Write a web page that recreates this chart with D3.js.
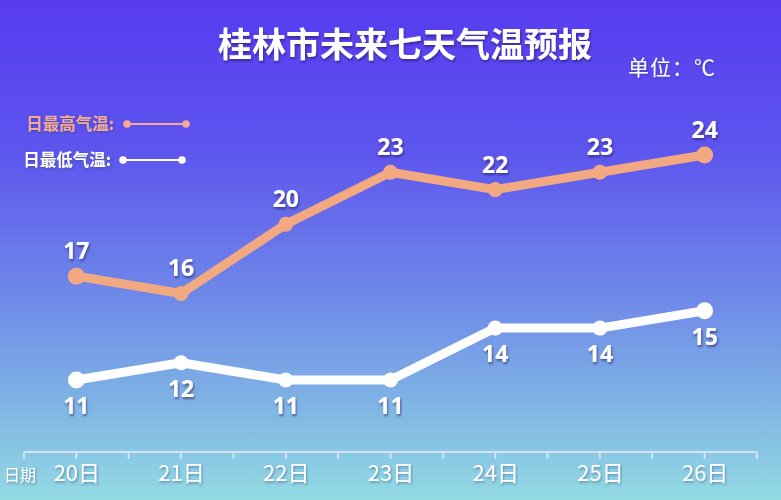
<!DOCTYPE html>
<html><head><meta charset="utf-8">
<script src="https://cdn.jsdelivr.net/npm/d3@7"></script>
<style>
html,body{margin:0;padding:0;}
svg{display:block;}
</style></head>
<body>
<svg id="chart" width="781" height="500"></svg>
<script>
const title = "桂林市未来七天气温预报";
const unitLabel = "单位：℃";
const dates = ["20日","21日","22日","23日","24日","25日","26日"];
const highTemps = [17,16,20,23,22,23,24];
const lowTemps = [11,12,11,11,14,14,15];
const seriesNames = ["日最高气温:","日最低气温:"];
const axisName = "日期";

const W = 781, H = 500;
const svg = d3.select("#chart");
const defs = svg.append("defs");
const grad = defs.append("linearGradient").attr("id","bg").attr("x1",0).attr("y1",0).attr("x2",0).attr("y2",1);
[[0,"#573bf0"],[0.3,"#5d55ee"],[0.6,"#6f8ae8"],[0.82,"#80b6e4"],[1,"#93dbe3"]].forEach(s=>
  grad.append("stop").attr("offset",s[0]).attr("stop-color",s[1]));
const sh = defs.append("filter").attr("id","sh").attr("x","-20%").attr("y","-20%").attr("width","140%").attr("height","160%");
sh.append("feDropShadow").attr("dx",1).attr("dy",2).attr("stdDeviation",1).attr("flood-color","#1a1450").attr("flood-opacity",0.55);
const sh2 = defs.append("filter").attr("id","sh2").attr("x","-20%").attr("y","-20%").attr("width","140%").attr("height","160%");
sh2.append("feDropShadow").attr("dx",1).attr("dy",1.5).attr("stdDeviation",0.8).attr("flood-color","#30407a").attr("flood-opacity",0.5);

svg.append("rect").attr("width",W).attr("height",H).attr("fill","url(#bg)");

const x = d3.scalePoint().domain(dates).range([24,757]).padding(0.5);
const y = d3.scaleLinear().domain([11,24]).range([380,155]);
const step = x.step();

const highColor = "#f2a982";
const lowColor = "#ffffff";
const cjk = "'Noto Sans CJK SC','Noto Sans',sans-serif";
const num = "'Open Sans','Noto Sans',sans-serif";

// title
svg.append("text").attr("x",405).attr("y",57).attr("text-anchor","middle")
  .attr("font-family",cjk).attr("font-weight","bold").attr("font-size",34)
  .attr("fill","#fff").attr("filter","url(#sh)").text(title);
svg.append("text").attr("x",716).attr("y",75).attr("text-anchor","end")
  .attr("font-family",cjk).attr("font-size",21).attr("letter-spacing",1)
  .attr("fill","#fff").attr("filter","url(#sh2)").text(unitLabel);

// legend
const legend = [
  {name:seriesNames[0], color:"#f4aa92", y:124, x1:127, x2:186, tx:114},
  {name:seriesNames[1], color:"#ffffff", y:160, x1:123, x2:182, tx:111}
];
legend.forEach(l=>{
  svg.append("text").attr("x", l.tx).attr("y", l.y+6).attr("text-anchor","end")
    .attr("font-family",cjk).attr("font-weight","bold").attr("font-size",16.5)
    .attr("fill",l.color).attr("filter","url(#sh2)").text(l.name);
  svg.append("line").attr("x1",l.x1).attr("x2",l.x2).attr("y1",l.y).attr("y2",l.y)
    .attr("stroke",l.color).attr("stroke-width",2);
  [l.x1,l.x2].forEach(cx=>svg.append("circle").attr("cx",cx).attr("cy",l.y).attr("r",3.8).attr("fill",l.color));
});

// axis
const axisY = 452;
const axisG = svg.append("g").attr("transform",`translate(0,${axisY})`);
axisG.append("line").attr("x1",24).attr("x2",757).attr("stroke","#d6e2ee").attr("stroke-width",2);
const tickPos = [];
dates.forEach(d=>{ tickPos.push(x(d)-step/2); tickPos.push(x(d)); });
tickPos.push(x(dates[dates.length-1])+step/2);
axisG.selectAll("line.tk").data(tickPos).enter().append("line").attr("class","tk")
  .attr("x1",d=>d).attr("x2",d=>d).attr("y1",0).attr("y2",7)
  .attr("stroke","#d6e2ee").attr("stroke-width",2);
const ax = d3.axisBottom(x).tickSize(0).tickPadding(0);
const axG = svg.append("g").attr("transform",`translate(0,${axisY})`).call(ax);
axG.select(".domain").remove();
axG.selectAll("text").attr("y",29).attr("dy",0)
  .attr("font-family",cjk).attr("font-size",22).attr("fill","#fff").attr("filter","url(#sh2)");
svg.append("text").attr("x",4).attr("y",481).attr("font-family",cjk).attr("font-size",16)
  .attr("fill","#fff").attr("filter","url(#sh2)").text(axisName);

// lines
const line = d3.line().x((d,i)=>x(dates[i])).y(d=>y(d));
function drawSeries(vals,color,above){
  const g = svg.append("g");
  g.append("path").attr("d",line(vals)).attr("fill","none").attr("stroke",color)
    .attr("stroke-width",9).attr("stroke-linejoin","round").attr("stroke-linecap","round");
  g.selectAll("circle").data(vals).enter().append("circle")
    .attr("cx",(d,i)=>x(dates[i])).attr("cy",d=>y(d))
    .attr("r",(d,i)=> (i===0||i===vals.length-1)?8.5:7.5).attr("fill",color);
  svg.append("g").selectAll("text").data(vals).enter().append("text")
    .attr("x",(d,i)=>x(dates[i])).attr("y",d=>y(d)+(above?-17:34))
    .attr("text-anchor","middle").attr("font-family",num).attr("font-weight","bold")
    .attr("font-size",23).attr("fill","#fff").attr("filter","url(#sh)").text(d=>d);
}
drawSeries(highTemps,highColor,true);
drawSeries(lowTemps,lowColor,false);
</script>
</body></html>
